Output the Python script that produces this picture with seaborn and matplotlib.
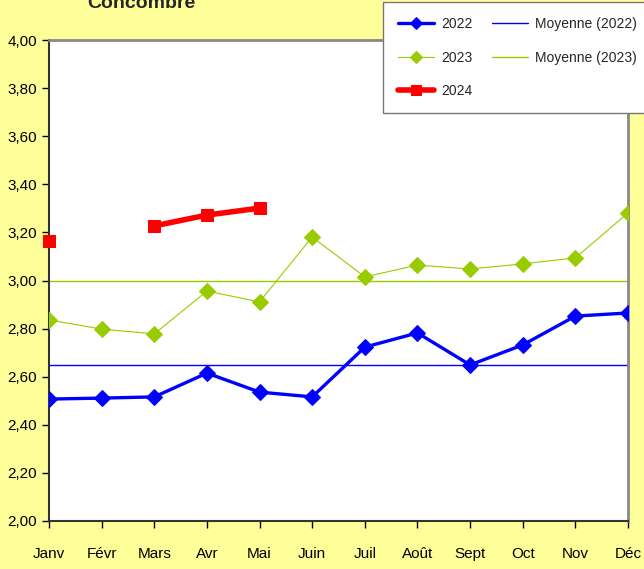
import numpy as np
import pandas as pd
import matplotlib
matplotlib.use("Agg")
import matplotlib.pyplot as plt
import seaborn as sns

# data
mois = ['Janv', 'Févr', 'Mars', 'Avr', 'Mai', 'Juin', 'Juil', 'Août', 'Sept', 'Oct', 'Nov', 'Déc']
prix_2022 = [2.507, 2.511, 2.516, 2.615, 2.536, 2.516, 2.723, 2.782, 2.649, 2.732, 2.852, 2.865]
prix_2023 = [2.836, 2.798, 2.778, 2.956, 2.911, 3.181, 3.015, 3.064, 3.048, 3.069, 3.094, 3.281]
prix_2024 = [3.164, np.nan, 3.227, 3.272, 3.301, np.nan, np.nan, np.nan, np.nan, np.nan, np.nan, np.nan]
moyenne_2022 = 2.65
moyenne_2023 = 3.00

df = pd.DataFrame({'x': np.arange(len(mois)), 'mois': mois,
                   '2022': prix_2022, '2023': prix_2023, '2024': prix_2024})

sns.set_style("white")
plt.rcParams['font.family'] = ['Liberation Sans', 'DejaVu Sans']

BG = '#FFFF99'
BLUE = '#0000FF'
GREEN = '#99CC00'
RED = '#FF0000'

fig = plt.figure(figsize=(6.44, 5.69), dpi=100, facecolor=BG)
ax = fig.add_axes([49/644, 1 - 521/569, (628 - 49)/644, (521 - 40)/569])
ax.set_facecolor('white')

sns.lineplot(data=df, x='x', y='2022', ax=ax, color=BLUE, lw=2.4, marker='D',
             markersize=8, markeredgecolor=BLUE, label='2022', estimator=None, zorder=4)
sns.lineplot(data=df, x='x', y='2023', ax=ax, color=GREEN, lw=0.8, marker='D',
             markersize=8, markeredgecolor=GREEN, label='2023', estimator=None, zorder=3)
d24 = df.dropna(subset=['2024'])
# Févr 2024 missing: draw Janv alone, then Mars-Mai
sns.lineplot(data=d24[d24['x'] >= 2], x='x', y='2024', ax=ax, color=RED, lw=4, marker='s',
             markersize=9, markeredgecolor=RED, label='2024', estimator=None, zorder=5)
sns.scatterplot(data=d24[d24['x'] < 2], x='x', y='2024', ax=ax, color=RED, marker='s',
                s=81, edgecolor=RED, zorder=5, clip_on=False, legend=False)

ax.axhline(moyenne_2022, color=BLUE, lw=1, label='Moyenne (2022)', zorder=2)
ax.axhline(moyenne_2023, color=GREEN, lw=1, label='Moyenne (2023)', zorder=2)

ax.set_xlim(0, 11)
ax.set_ylim(2.0, 4.0)
ax.set_xticks(df['x'])
ax.set_xticklabels(mois)
yt = np.arange(2.0, 4.01, 0.2)
ax.set_yticks(yt)
ax.set_yticklabels([f"{v:.2f}".replace('.', ',') for v in yt])
ax.set_xlabel('')
ax.set_ylabel('')
ax.tick_params(axis='both', labelsize=11, length=5, width=1, direction='out',
               bottom=True, left=True, colors='black')
ax.tick_params(axis='x', pad=14)

for side in ['top', 'right']:
    ax.spines[side].set_color('#888888')
    ax.spines[side].set_linewidth(2)
for side in ['left', 'bottom']:
    ax.spines[side].set_color('#333333')
    ax.spines[side].set_linewidth(1.5)

fig.text(141/644, 1 - 4/569, 'Concombre', ha='center', va='center',
         fontsize=14, fontweight='bold')

h, l = ax.get_legend_handles_labels()
ax.get_legend().remove()
order = ['2022', '2023', '2024', 'Moyenne (2022)', 'Moyenne (2023)']
hs = [h[l.index(k)] for k in order]
leg = fig.legend(hs, order, ncol=2, loc='upper left', bbox_to_anchor=(383/644, 1 - 2/569),
                 fontsize=10, frameon=True, fancybox=False, handlelength=2.6,
                 handletextpad=0.5, labelspacing=1.4, columnspacing=1.4, borderpad=1.1,
                 markerscale=0.8, borderaxespad=0)
leg.get_frame().set_edgecolor('#777777')
leg.get_frame().set_linewidth(1)
leg.get_frame().set_facecolor('white')
leg.get_frame().set_alpha(1)

fig.savefig('out.png', dpi=100, facecolor=BG)
